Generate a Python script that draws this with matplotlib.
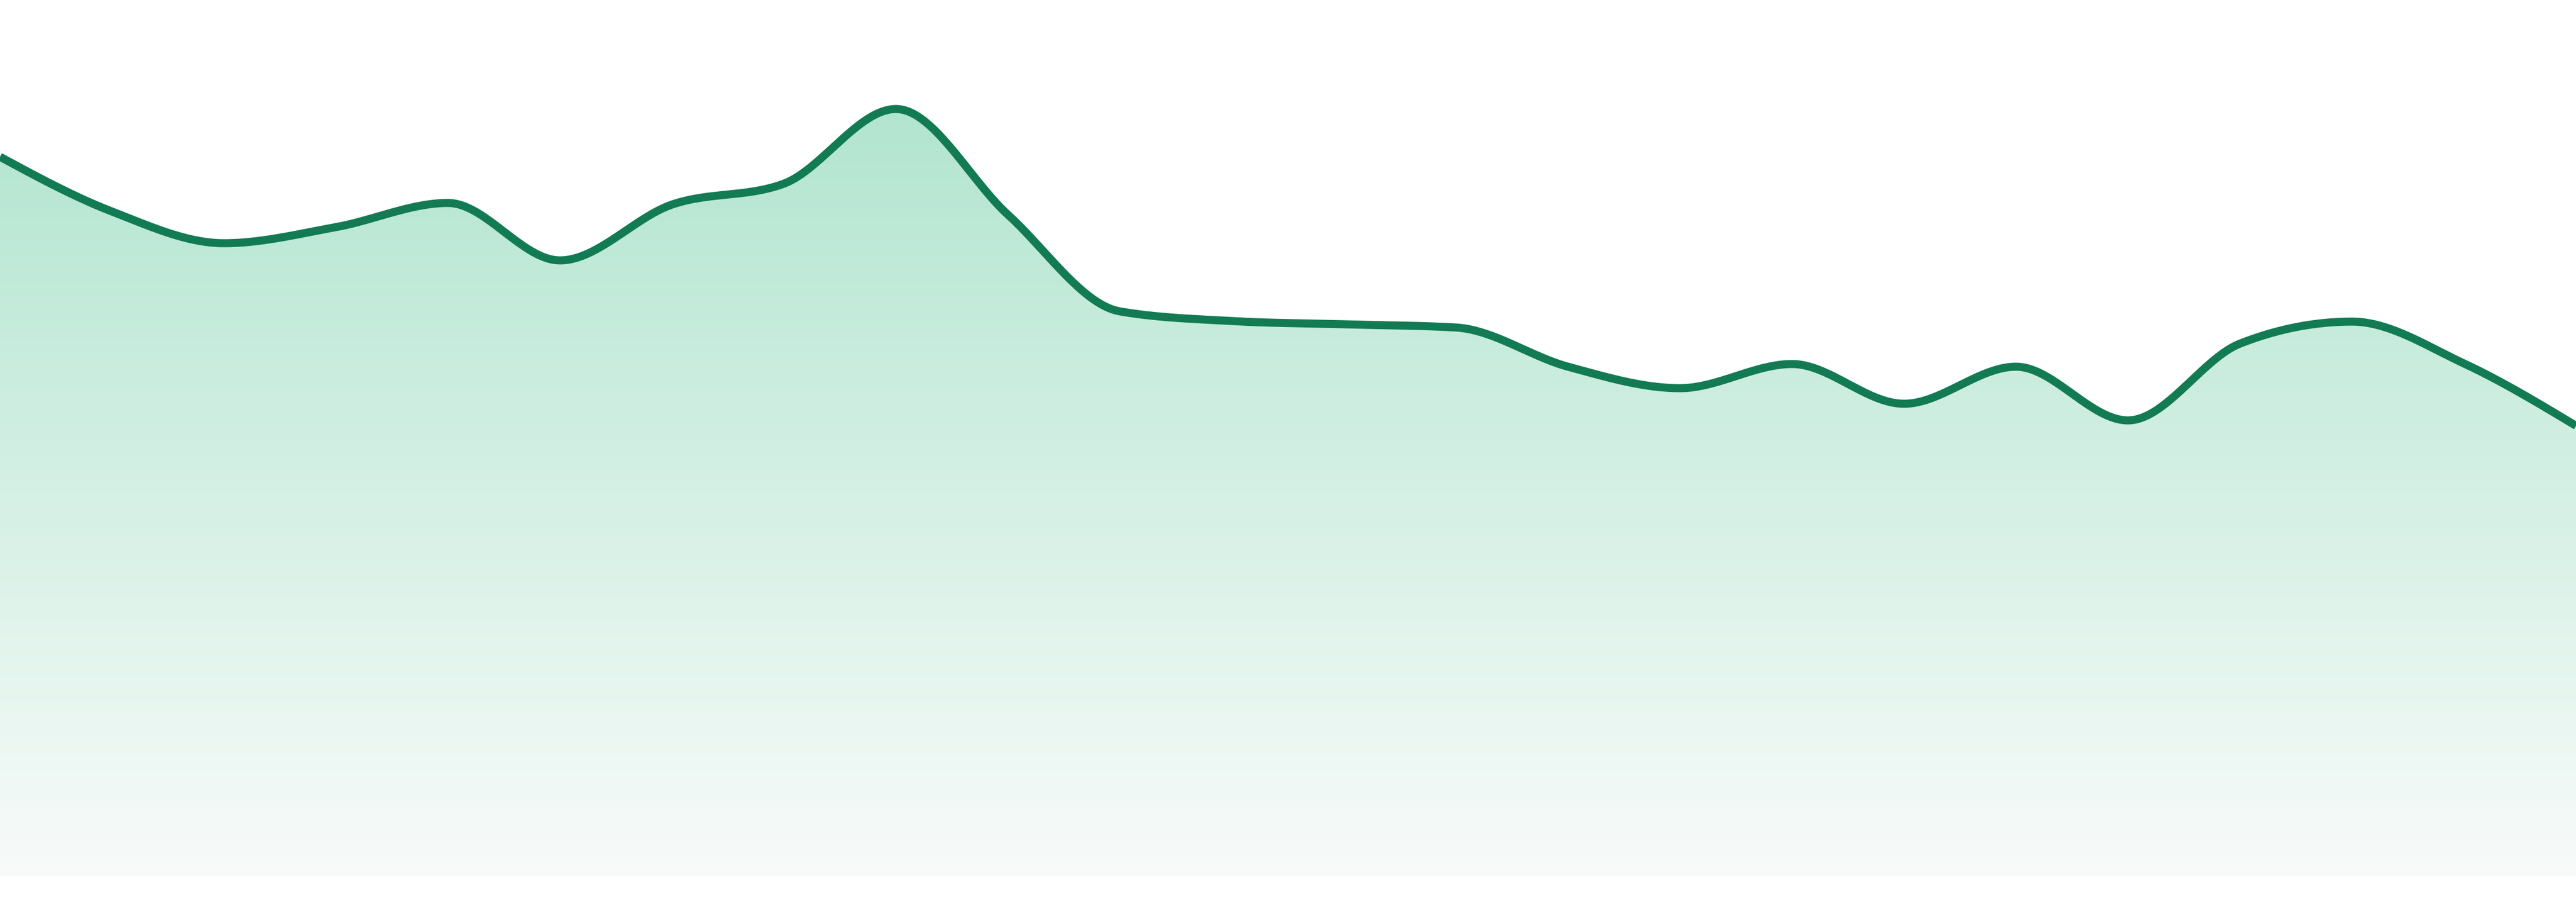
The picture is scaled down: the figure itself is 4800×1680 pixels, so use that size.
import numpy as np
import matplotlib
matplotlib.use("Agg")
import matplotlib.pyplot as plt
from matplotlib.patches import Polygon

# Data: 24 evenly spaced samples (arbitrary units; baseline = 0)
index = list(range(24))
values = [1340, 1238, 1179, 1209, 1254, 1147, 1251, 1290, 1429, 1232, 1052, 1034,
          1028, 1022, 949, 909, 954, 880, 949, 849, 992, 1033, 955, 839]

LINE_COLOR = "#127b53"
TOP_RGB = np.array([178, 229, 208]) / 255.0
BOT_RGB = np.array([248, 251, 250]) / 255.0


def monotone_x(x, y, n=40):
    """d3.curveMonotoneX style interpolation."""
    x = np.asarray(x, float)
    y = np.asarray(y, float)
    m = len(x)
    h = np.diff(x)
    s = np.diff(y) / h
    t = np.zeros(m)
    for i in range(1, m - 1):
        s0, s1 = s[i - 1], s[i]
        h0, h1 = h[i - 1], h[i]
        p = (s0 * h1 + s1 * h0) / (h0 + h1)
        t[i] = (np.sign(s0) + np.sign(s1)) * min(abs(s0), abs(s1), 0.5 * abs(p))
    t[0] = (3 * s[0] - t[1]) / 2
    t[-1] = (3 * s[-1] - t[-2]) / 2
    xs, ys = [], []
    for i in range(m - 1):
        u = np.linspace(0, 1, n, endpoint=(i == m - 2))
        dx = h[i]
        h00 = 2 * u**3 - 3 * u**2 + 1
        h10 = u**3 - 2 * u**2 + u
        h01 = -2 * u**3 + 3 * u**2
        h11 = u**3 - u**2
        xs.append(x[i] + u * dx)
        ys.append(h00 * y[i] + h10 * dx * t[i] + h01 * y[i + 1] + h11 * dx * t[i + 1])
    return np.concatenate(xs), np.concatenate(ys)


fig = plt.figure(figsize=(16, 5.6), dpi=300)
fig.patch.set_facecolor("white")
ax = fig.add_axes([0, 0, 1, 1])
ax.set_xlim(index[0], index[-1])
ax.set_ylim(-48, 1632)
ax.axis("off")

cx, cy = monotone_x(index, values)

# gradient fill under the curve
top = max(values)
grad_n = 512
frac = np.linspace(0, 1, grad_n)[:, None]  # 0 at bottom, 1 at top
img = BOT_RGB[None, :] * (1 - frac) + TOP_RGB[None, :] * frac
img = np.repeat(img[:, None, :], 2, axis=1)
im = ax.imshow(img, extent=[index[0], index[-1], 0, top], origin="lower",
               aspect="auto", interpolation="bilinear", zorder=1)
poly_xy = np.column_stack([np.concatenate([[cx[0]], cx, [cx[-1]]]),
                           np.concatenate([[0], cy, [0]])])
clip = Polygon(poly_xy, closed=True, facecolor="none", edgecolor="none")
ax.add_patch(clip)
im.set_clip_path(clip)

ax.plot(cx, cy, color=LINE_COLOR, linewidth=3.6, solid_capstyle="butt",
        solid_joinstyle="round", zorder=3)

fig.savefig("out.png", dpi=300, facecolor="white")
